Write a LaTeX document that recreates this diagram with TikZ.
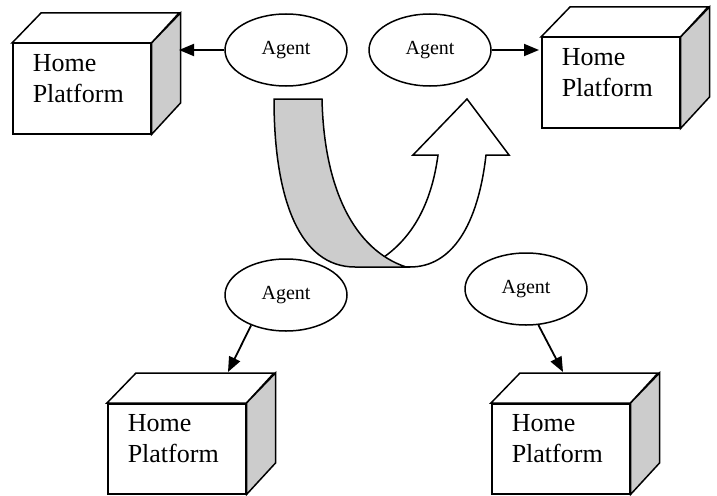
\documentclass[tikz,border=0pt]{standalone}
\usepackage{fontspec}
\setmainfont{Liberation Serif}
\usetikzlibrary{shapes.geometric,arrows.meta}
\definecolor{sidegray}{RGB}{204,204,204}
\newcommand\platbox[3]{%
  \node[frontface] (#1) at (#2,#3) {};
  \draw[topface] (#1.north west) -- ++(29,-30) -- ++(138,0) -- (#1.north east) -- cycle;
  \draw[sideface] (#1.north east) -- ++(29,-30) -- ++(0,90) -- (#1.south east) -- cycle;
  \node[boxtext] (#1-t) at ([xshift=20pt,yshift=-11pt]#1.north west) {Home\\Platform};
}
\begin{document}
\begin{tikzpicture}[x=1pt,y=-1pt,
  line width=1.5pt, line join=miter,
  frontface/.style={draw, rectangle, minimum width=138pt, minimum height=90pt, inner sep=0pt, anchor=north west, fill=white},
  topface/.style={draw, fill=white},
  sideface/.style={draw, fill=sidegray},
  boxtext/.style={anchor=north west, align=left, inner sep=0pt, font=\fontsize{26}{31}\selectfont},
  agent/.style={draw, ellipse, minimum width=122pt, minimum height=72pt, inner sep=0pt, font=\fontsize{20}{24}\selectfont},
  link/.style={-{Triangle[length=15pt,width=12pt]}, line width=1.8pt},
  ribbonback/.style={draw, fill=sidegray},
  ribbonfront/.style={draw, fill=white}]
\useasboundingbox (0,0) rectangle (717,495);

% platforms
\platbox{tl}{12}{43}
\platbox{tr}{541}{37}
\platbox{bl}{107}{403}
\platbox{br}{491}{403}

% agents
\node[agent] (ag1) at (286,50) {Agent};
\node[agent] (ag2) at (430,50) {Agent};
\node[agent] (ag3) at (286,295) {Agent};
\node[agent] (ag4) at (526,289) {Agent};

% arrow targets
\coordinate (tlin) at (179,50);
\coordinate (trin) at (539,50);
\coordinate (blin) at (228,372);
\coordinate (brin) at (563,372);

\draw[link] (ag1.west) -- (tlin);
\draw[link] (ag2.east) -- (trin);
\draw[link] (ag3.-139) -- (blin);
\draw[link] (ag4.-71) -- (brin);

% curved ribbon arrow
\path[fill=white] (384,257) .. controls (415,235) and (432,200) .. (438,155)
   -- (413,155) -- (467,99) -- (509,155) -- (486,155)
   .. controls (478,225) and (452,267) .. (410,267) -- cycle;
\draw[ribbonfront, fill=none] (384,257) .. controls (415,235) and (432,200) .. (438,155)
   -- (413,155) -- (467,99) -- (509,155) -- (486,155)
   .. controls (478,225) and (452,267) .. (410,267);
\draw[ribbonback] (274,99) -- (322,99) .. controls (324,190) and (355,250) .. (406,267)
   -- (355,267) .. controls (300,267) and (274,200) .. (274,99) -- cycle;
\draw (406,267) -- (410,267);
\end{tikzpicture}
\end{document}
